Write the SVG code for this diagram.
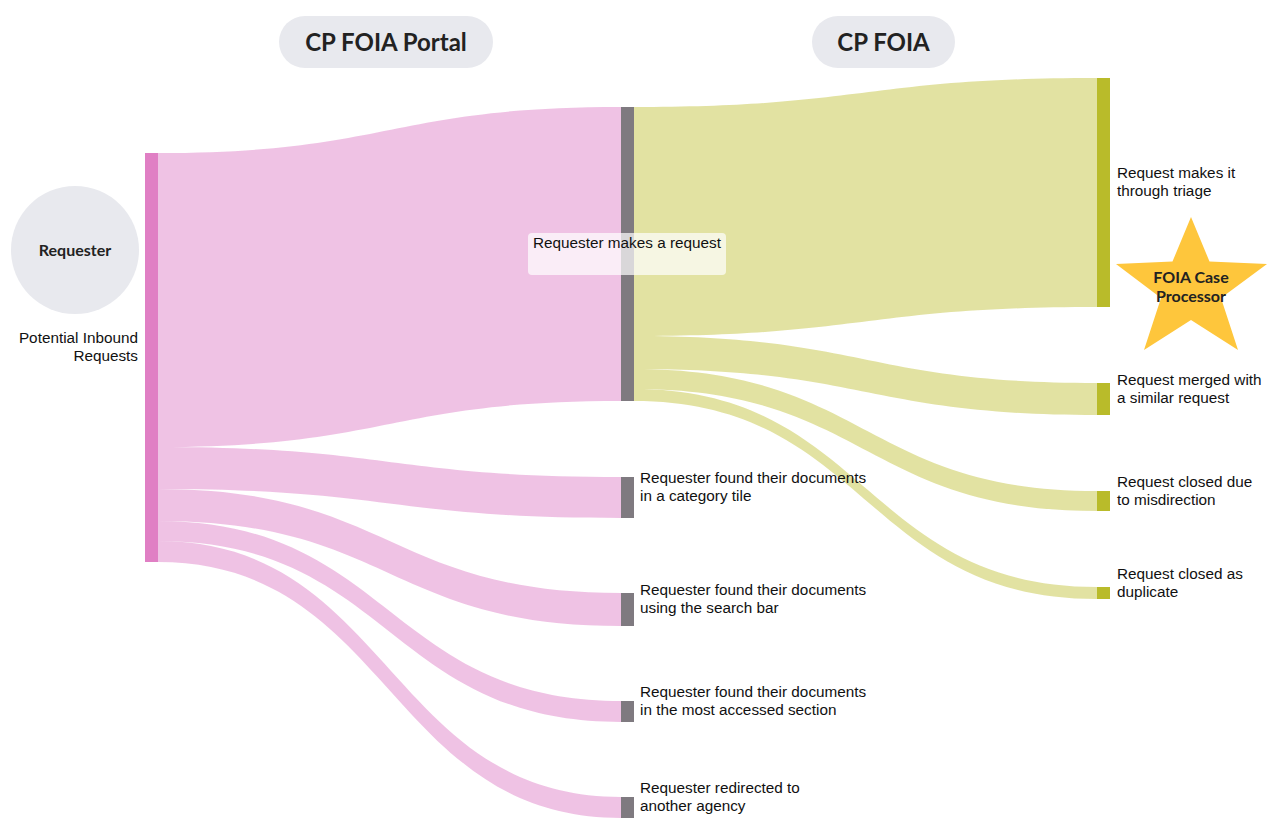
<svg xmlns="http://www.w3.org/2000/svg" width="1280" height="840" viewBox="0 0 1280 840">
<style>
.pk{fill:#eaaedb;opacity:0.75}
.yl{fill:#d6d67a;opacity:0.7}
.lb{font-family:"Liberation Sans",Arial,sans-serif;font-size:15.3px;fill:#111}
.hd{font-family:Lato,"Noto Sans",sans-serif;font-weight:bold;font-size:24px;fill:#222}
.bd{font-family:Lato,"Noto Sans",sans-serif;font-weight:bold;font-size:16px;fill:#222}
.gn{fill:#7f7a80}
.yn{fill:#b9bb2a}
</style>
<rect width="1280" height="840" fill="#fff"/>
<g id="connectors">
<path class="pk" d="M158,153 C389.5,153 389.5,107 621,107 L621,401 C389.5,401 389.5,447 158,447 Z"/>
<path class="pk" d="M158,447 C389.5,447 389.5,477 621,477 L621,518 C389.5,518 389.5,489 158,489 Z"/>
<path class="pk" d="M158,489 C389.5,489 389.5,593 621,593 L621,626 C389.5,626 389.5,521 158,521 Z"/>
<path class="pk" d="M158,521 C389.5,521 389.5,701 621,701 L621,722 C389.5,722 389.5,541 158,541 Z"/>
<path class="pk" d="M158,541 C389.5,541 389.5,797 621,797 L621,818 C389.5,818 389.5,562 158,562 Z"/>
<path class="yl" d="M634,107 C865.5,107 865.5,78 1097,78 L1097,307 C865.5,307 865.5,336 634,336 Z"/>
<path class="yl" d="M634,336 C865.5,336 865.5,383 1097,383 L1097,415 C865.5,415 865.5,369 634,369 Z"/>
<path class="yl" d="M634,369 C865.5,369 865.5,491 1097,491 L1097,511 C865.5,511 865.5,389 634,389 Z"/>
<path class="yl" d="M634,389 C865.5,389 865.5,587 1097,587 L1097,599 C865.5,599 865.5,401 634,401 Z"/>
</g>
<g id="headers">
<rect x="279" y="16" width="214" height="52" rx="26" fill="#e8e9ee"/>
<text class="hd" x="386" y="51" text-anchor="middle">CP FOIA Portal</text>
<rect x="812" y="16" width="143" height="52" rx="26" fill="#e8e9ee"/>
<text class="hd" x="883.5" y="51" text-anchor="middle">CP FOIA</text>
</g>
<g id="requester">
<circle cx="75" cy="250" r="64" fill="#e8e9ee"/>
<text class="bd" x="75" y="256" text-anchor="middle">Requester</text>
</g>
<g id="source">
<rect x="145" y="153" width="13" height="409" fill="#e07fc4"/>
<text class="lb" x="138" y="343" text-anchor="end">Potential Inbound</text>
<text class="lb" x="138" y="361" text-anchor="end">Requests</text>
</g>
<g id="make-request">
<rect class="gn" x="621" y="107" width="13" height="294"/>
<rect x="528" y="233" width="198" height="42" rx="4" fill="#fff" opacity="0.7"/>
<text class="lb" x="533" y="248">Requester makes a request</text>
</g>
<g id="category">
<rect class="gn" x="621" y="477" width="13" height="41"/>
<text class="lb" x="640" y="483">Requester found their documents</text>
<text class="lb" x="640" y="501">in a category tile</text>
</g>
<g id="search">
<rect class="gn" x="621" y="593" width="13" height="33"/>
<text class="lb" x="640" y="595">Requester found their documents</text>
<text class="lb" x="640" y="613">using the search bar</text>
</g>
<g id="accessed">
<rect class="gn" x="621" y="701" width="13" height="21"/>
<text class="lb" x="640" y="697">Requester found their documents</text>
<text class="lb" x="640" y="715">in the most accessed section</text>
</g>
<g id="redirected">
<rect class="gn" x="621" y="797" width="13" height="21"/>
<text class="lb" x="640" y="793">Requester redirected to</text>
<text class="lb" x="640" y="811">another agency</text>
</g>
<g id="triage">
<rect class="yn" x="1097" y="78" width="13" height="229"/>
<text class="lb" x="1117" y="178">Request makes it</text>
<text class="lb" x="1117" y="196">through triage</text>
</g>
<g id="merged">
<rect class="yn" x="1097" y="383" width="13" height="32"/>
<text class="lb" x="1117" y="385">Request merged with</text>
<text class="lb" x="1117" y="403">a similar request</text>
</g>
<g id="misdirection">
<rect class="yn" x="1097" y="491" width="13" height="20"/>
<text class="lb" x="1117" y="487">Request closed due</text>
<text class="lb" x="1117" y="505">to misdirection</text>
</g>
<g id="duplicate">
<rect class="yn" x="1097" y="587" width="13" height="12"/>
<text class="lb" x="1117" y="579">Request closed as</text>
<text class="lb" x="1117" y="597">duplicate</text>
</g>
<g id="processor">
<polygon fill="#fec63c" points="1191,217 1209.5,261.5 1267,264 1221,298 1238,350 1191,320 1144,350 1161,298 1116,264 1172.5,261.5"/>
<text class="bd" x="1191" y="283" text-anchor="middle">FOIA Case</text>
<text class="bd" x="1191" y="302" text-anchor="middle">Processor</text>
</g>
</svg>
